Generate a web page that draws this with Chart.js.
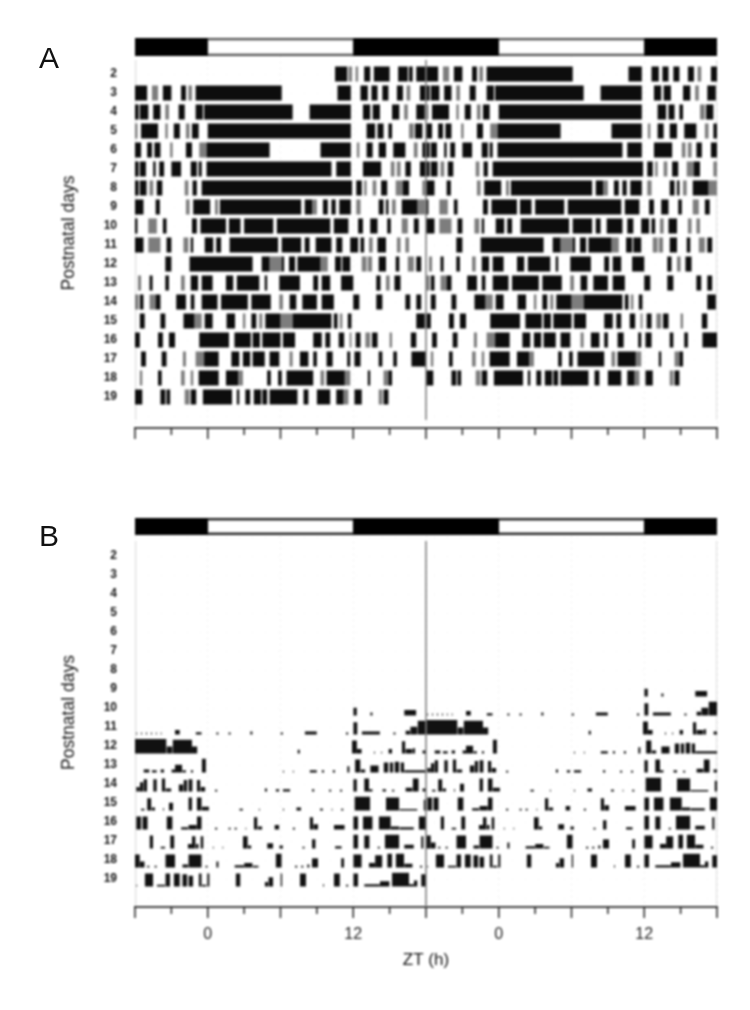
<!DOCTYPE html>
<html>
<head>
<meta charset="utf-8">
<title>Actograms</title>
<script src="https://cdn.jsdelivr.net/npm/chart.js@4"></script>
<style>
    html, body { margin: 0; padding: 0; background: #fff; }
    #page { position: relative; width: 750px; height: 1010px; overflow: hidden; }
    canvas { position: absolute; left: 0; filter: blur(0.8px); }
    #chart-a { top: 0; }
    #chart-b { top: 480px; }
    .panel-letter { position: absolute; left: 39px; font: 30px "Liberation Sans", Arial, sans-serif; color: #111; line-height: 30px; filter: blur(0.5px); }
</style>
</head>
<body>
<div id="page">
    <div class="panel-letter" style="top:43px">A</div>
    <div class="panel-letter" style="top:521px">B</div>
    <canvas id="chart-a" width="750" height="470"></canvas>
    <canvas id="chart-b" width="750" height="530"></canvas>
</div>
<script>
const days = [2, 3, 4, 5, 6, 7, 8, 9, 10, 11, 12, 13, 14, 15, 16, 17, 18, 19];

// ZT hours where the light phase is on (black bar everywhere else)
const lightPhases = [[0, 12], [24, 36]];

// Panel A: activity bouts per day, [start, end, level], hours from -6 to 18. No level = full.
const boutsA = [
    [[10.5,11.5],[11.6,11.9,.5],[12.2,12.4,.5],[12.9,13.4],[13.7,15],[15.7,16.5],[16.6,16.9],[17.2,18]],
    [[-6,-5],[-4.6,-4.1,.5],[-3.7,-3],[-2.2,-1.8],[-1.6,-1.3,.5],[-1,6.1],[10.7,11.8],[12.6,13.2],[13.5,14],[14.4,14.9],[15.6,16.1],[16.4,16.7,.5],[17.5,18]],
    [[-6,-5.7],[-5.6,-4.9],[-4.5,-3.9],[-3.5,-3.2,.5],[-2.4,-1.9],[-1,-.4],[-.3,7],[8.4,11.8],[12.8,13.4],[13.6,14.2],[15.2,15.8],[16.2,16.5,.5],[17.2,17.9]],
    [[-6,-5.8,.5],[-5.5,-4.1],[-3.5,-3.3,.5],[-2.8,-2.3],[-1.8,-1.5,.5],[-1.3,-.75],[0,11.8],[13.1,13.8],[14,14.5],[14.9,15.2],[16.6,17,.5],[17.1,17.7]],
    [[-6,-5.5],[-5,-4.6],[-4.4,-3.9],[-3.1,-2.9,.5],[-1.8,-1.3],[-.7,-.1,.6],[-.1,5.1],[9.3,11.8],[12.3,12.5,.5],[13.1,13.6],[14.1,14.7],[15.3,16.3],[17,17.3,.5],[17.7,18]],
    [[-6,-5.7],[-5.6,-5.1],[-4.5,-4.3],[-4,-3.6],[-3,-2.2],[-1.4,-.9],[-.75,-.5],[-.1,10.2],[10.6,11.8],[12.8,14.3],[15.1,15.4,.5],[15.6,15.9,.5],[16.3,16.75],[17.5,18]],
    [[-6,-5.7],[-5.6,-5.05],[-4.8,-4.5,.5],[-4.2,-3.75],[-1.9,-1.6,.5],[-1.25,-.9],[-.5,11.9],[12.25,12.7],[12.9,13.1,.5],[13.6,13.9,.5],[14.3,14.8],[15.5,16.1,.5],[16.1,16.6],[17.7,18,.5]],
    [[-6,-5.3],[-4.3,-3.95],[-1.8,-1.5,.5],[-1.2,.2],[.6,.85,.5],[1,7.7],[8,8.6],[8.6,9,.6],[9.5,9.9],[10.2,10.55],[10.85,11.8],[12.25,12.6,.5],[14.1,14.5],[14.7,14.9],[15.2,15.5,.5],[16,17.3],[17.3,18,.6]],
    [[-6,-5.8],[-4.9,-4.2,.7],[-3.7,-3.4],[-1.3,-.9],[-.6,1.5],[1.75,2.7],[3,5.4],[5.7,10.1],[10.4,11.6],[12.4,12.8],[13.4,14],[14.8,15.1],[16,16.5,.6],[17,17.4]],
    [[-6,-5.3],[-4.9,-3.9,.5],[-3.4,-3],[-2,-1.6,.5],[-1.4,-1.2],[-.25,.45],[.7,1.1],[1.8,5.8],[6.1,7.7],[8,8.4],[8.9,10.2],[10.6,11.1],[11.75,12.4],[12.6,12.9],[13.3,13.6,.5],[14,14.7],[15.6,15.9,.5],[16.3,16.6,.5]],
    [[-3.5,-3],[-1.5,3.7],[4.45,5.1],[5.1,6.1,.5],[6.1,6.3],[6.7,7.2],[7.4,9.3],[9.3,9.9,.6],[10.5,11],[11.1,11.75],[12.7,13.1,.5],[13.2,13.55,.5],[14.1,14.7],[15.5,15.8],[16.5,17,.6],[17.2,17.6]],
    [[-5.75,-5.5,.5],[-4.8,-4.55],[-3.5,-3.2],[-2.2,-1.9,.5],[-1.4,-.8],[-.5,.4],[1.5,2.1],[2.4,4.25],[4.7,4.9],[5.9,7.6],[8.7,9.1],[9.4,10.1],[11,12],[13.9,14.25],[14.7,15,.5],[15.4,15.9]],
    [[-6,-5.7,.5],[-5.6,-5.3],[-4.8,-4.3,.6],[-4.3,-3.9],[-2.6,-1.8],[-1.4,-1.1],[-.5,.8],[1.1,3.3],[3.6,5.2],[5.9,6.2,.5],[6.75,7.3],[7.8,9],[9.4,10.4],[12,12.5],[13.9,14.4],[16.3,16.7],[17.2,17.6]],
    [[-5.6,-5.2],[-3.9,-3.5],[-2,-1.1],[-1.1,-.5,.6],[-.25,.4],[1.55,2.25],[2.9,3.1,.5],[3.6,4],[4.25,4.5,.5],[4.75,6],[6,7,.6],[7,10.2],[10.4,10.7],[10.9,11.1,.5],[11.55,11.85],[17.2,17.9]],
    [[-6,-5.6],[-4.1,-3.7],[-3.2,-2.7],[-.7,1.75],[2.2,3.55],[3.7,4.3],[4.5,6],[6.2,7.2],[8.7,9.4],[9.7,10.1],[10.8,11.25],[11.7,11.85,.5],[12.2,12.6],[13,13.4,.6],[13.55,14],[15,15.2,.5],[16.75,17.2]],
    [[-5.5,-5.1],[-3.8,-3.4],[-2.05,-1.8,.5],[-1,-.3,.6],[-.3,.9],[1.95,2.6],[2.9,3.5],[3.7,4.7],[5.1,5.9],[6.75,7,.5],[7.6,8.3],[8.7,9],[9.8,10.3],[11.5,11.75],[12.1,12.6],[14.1,14.4],[15.3,15.6],[16.8,18]],
    [[-5.6,-5.4,.5],[-4.1,-3.8],[-2.2,-1.9,.5],[-1.4,-1.2,.5],[-.75,.9],[1.5,2.5],[2.5,2.9,.6],[4.9,5.2],[5.8,6.1],[6.5,8.7],[9.3,9.6,.5],[9.8,11.3],[11.3,11.75,.7],[13.2,13.4],[14.5,14.9,.5],[14.9,15.2]],
    [[-6,-5.4],[-3.9,-3.5],[-3.4,-3.1],[-1.9,-1.5,.7],[-1.4,-.95],[-.4,2],[2.4,2.6],[3.1,3.5],[3.8,4.4],[4.5,4.9],[5.1,7.4],[7.9,8.3],[9,10.1],[10.6,11.2],[11.2,11.6,.7],[12.1,12.7],[14.1,14.4,.5],[14.5,14.9]]
];

// Panel B: activity counts per day, [start, end, height of the row (0-1)], hours from -6 to 18
const bumpsB = [
    [], [], [], [], [], [], [],
    [],
    [[12,12.3,.5],[13.4,13.6,.2],[16.2,17.2,.35]],
    [[-5.9,-5.8,.12],[-5.5,-5.4,.12],[-5.1,-5,.12],[-4.7,-4.6,.12],[-4.3,-4.2,.12],[-3.9,-3.8,.12],[-2.7,-2.3,.3],[-1,-.5,.15],[.7,.9,.12],[1.7,1.9,.12],[3.5,3.7,.2],[6,6.2,.12],[8,9,.2],[11.4,11.6,.12],[12,12.35,.8],[12.7,14.2,.2],[15.3,15.5,.12],[16.3,16.7,.25],[16.7,17.3,.5],[17.3,18,.9]],
    [[-6,-3.4,.95],[-3.4,-2.9,.45],[-2.9,-1.3,.9],[-1.3,-.85,.45],[7.4,7.6,.25],[11.9,12.3,.85],[12.3,12.7,.3],[13.7,13.8,.12],[14.3,14.4,.12],[14.9,15.2,.3],[16,16.3,.8],[16.3,16.9,.3],[16.9,17.1,.35],[17.7,18,.2]],
    [[-5.3,-4.8,.2],[-4.6,-4.2,.15],[-3.9,-3.6,.2],[-3,-2.7,.2],[-2.7,-2.1,.5],[-2.1,-1.8,.15],[-1.4,-1.2,.15],[-.5,-.15,.9],[6.2,6.3,.12],[7,7.1,.12],[8.4,9,.15],[9.4,9.6,.15],[10.3,10.5,.15],[11.5,11.7,.4],[12.15,12.6,.85],[12.6,13,.2],[13.4,14.1,.45],[14.5,14.9,.65],[15,15.3,.65],[15.4,15.8,.7],[15.9,16.2,.65],[16.2,18,.15]],
    [[-5.9,-5.6,.3],[-5.6,-5.3,.6],[-5.3,-5,.8],[-4.5,-4.2,.8],[-3.8,-3.5,.85],[-3.5,-3,.2],[-2.4,-2,.45],[-2,-1.7,.75],[-1.6,-1.25,.8],[-.9,-.6,.75],[-.6,-.2,.3],[.6,.8,.12],[4.7,4.9,.2],[5.6,5.9,.15],[6.2,6.8,.15],[8.6,8.8,.15],[10,10.2,.12],[10.9,11.1,.12],[12,12.3,.8],[12.9,13.3,.85],[13.3,13.6,.15],[14.4,14.7,.15],[15.2,15.4,.12],[16.3,16.9,.25],[16.9,17.4,.85],[17.7,18,.2]],
    [[-5.5,-5.2,.12],[-5,-4.65,.8],[-4.65,-4.35,.2],[-3.7,-3.6,.15],[-3.2,-2.85,.5],[-1.6,-1.3,.85],[-.9,-.5,.85],[-.5,.1,.25],[2.6,2.9,.12],[4.2,4.3,.12],[6.2,6.3,.12],[7.3,7.7,.2],[9.25,9.5,.12],[10.2,10.3,.12],[11,11.2,.12],[12.1,13.4,.9],[14.7,15.8,.85],[15.8,17.3,.1],[17.8,18,.7]],
    [[-5.9,-5.5,.85],[-5.4,-4.95,.85],[-3.4,-2.9,.85],[-2.2,-1.6,.15],[-1.6,-.9,.3],[-.9,-.5,.85],[.6,.8,.12],[1.7,1.9,.12],[2.2,2.4,.12],[3.1,3.2,.12],[3.8,4.1,.8],[4.1,4.5,.2],[5.5,5.9,.3],[7,7.2,.12],[8.4,8.7,.8],[8.7,9.1,.35],[10.4,11.3,.3],[12,12.4,.85],[12.8,13.6,.85],[14.1,15.1,.85],[15.1,15.8,.2],[15.8,17,.15],[17.4,18,.85]],
    [[-4.8,-4.5,.85],[-3.9,-3.5,.12],[-3.1,-2.75,.85],[-1.65,-1.3,.3],[-1.3,-1,.8],[-1,-.75,.3],[-.6,-.35,.8],[.4,.5,.12],[1.2,1.3,.12],[2.9,3.3,.8],[3.3,3.6,.2],[4.9,5.4,.35],[5.9,6.2,.2],[7.8,8,.12],[8.6,8.9,.6],[10.5,11.05,.15],[12,12.4,.9],[12.9,13.35,.85],[14,14.2,.12],[14.6,15.8,.9],[16.2,17,.25],[17.6,17.8,.8]],
    [[-6,-5.6,.85],[-5.6,-5.2,.4],[-5,-4.8,.12],[-4.4,-4.2,.12],[-3.5,-2.7,.85],[-2.1,-1.6,.2],[-1.6,-.5,.85],[-.2,0,.12],[.7,.9,.4],[2.2,3,.15],[3,3.7,.3],[3.7,4.2,.12],[5.6,6.1,.9],[7.2,7.4,.12],[7.7,7.9,.12],[8.2,8.4,.2],[8.6,9.1,.6],[11,11.25,.6],[12,12.7,.85],[13.3,13.8,.3],[13.8,14.4,.8],[14.8,15.2,.9],[15.5,16.2,.9],[16.2,16.9,.25],[17.5,17.7,.12]],
    [[-5.9,-5.8,.12],[-5.2,-4.5,.85],[-4.2,-3.5,.12],[-3.5,-3.1,.85],[-2.8,-2.3,.85],[-2.1,-1.7,.8],[-1.6,-1.2,.7],[-.75,-.5,.85],[-.5,-.1,.12],[-.05,.15,.85],[2.3,2.7,.85],[4.7,5,.3],[5,5.4,.6],[6,6.15,.85],[7.6,8.1,.85],[9.5,9.6,.15],[10.4,10.9,.85],[11.4,11.6,.12],[12,12.4,.85],[12.9,14.2,.15],[14.2,15,.35],[15.2,16.6,.9],[16.6,17,.15],[17,17.3,.4],[17.6,18,.8]]
];

const hourTicks = 3;
const barTrack = { A: { bar: 0.58, top: 1.26 }, B: { bar: 0.45, top: 1.21 } };

function rowSegments(row, level) {
    // a line with gaps: each bout is one stroke across the row
    const pts = [];
    const add = (list, shift, y) => {
        list.forEach(b => {
            const partial = b.length > 2;
            if (partial !== level) return;
            pts.push({ x: b[0] + shift, y: y }, { x: b[1] + shift, y: y }, { x: NaN, y: NaN });
        });
    };
    add(boutsA[row], 0, days[row]);
    if (row + 1 < days.length) add(boutsA[row + 1], 24, days[row]);
    return pts;
}

function rowBumps(row) {
    const pts = [];
    const base = days[row] + 0.39;
    const add = (list, shift) => {
        list.forEach(b => {
            const top = base - b[2] * 0.8;
            pts.push({ x: b[0] + shift, y: base }, { x: b[0] + shift, y: top }, { x: b[1] + shift, y: top }, { x: b[1] + shift, y: base }, { x: NaN, y: NaN });
        });
    };
    add(bumpsB[row], 0);
    if (row + 1 < days.length) add(bumpsB[row + 1], 24);
    return pts;
}

function line(data, color, width) {
    return { data: data, borderColor: color, borderWidth: width, pointRadius: 0, borderCapStyle: "butt", tension: 0, fill: false, spanGaps: false };
}

function lightDarkDatasets(y, width, edge) {
    const gaps = [];
    const white = [];
    lightPhases.forEach(p => {
        gaps.push({ x: p[0], y: y }, { x: p[1], y: y }, { x: NaN, y: NaN });
        white.push({ x: p[0] + 0.03, y: y }, { x: p[1] - 0.03, y: y }, { x: NaN, y: NaN });
    });
    return [
        line(white, "#fff", width - 5),
        line(gaps, edge, width - 1),
        line([{ x: -6, y: y }, { x: 42, y: y }], "#000", width)
    ];
}

// tick marks: long every 6 h, short in between
const tickMarks = {
    id: "tickMarks",
    afterDraw(chart) {
        const { ctx, chartArea, scales } = chart;
        ctx.save();
        ctx.strokeStyle = "#222";
        ctx.lineWidth = 1.5;
        scales.x.ticks.forEach(t => {
            const px = scales.x.getPixelForValue(t.value);
            ctx.beginPath();
            ctx.moveTo(px, chartArea.bottom);
            ctx.lineTo(px, chartArea.bottom + (t.value % 6 === 0 ? 11 : 7));
            ctx.stroke();
        });
        ctx.restore();
    }
};

function makePanel(id, marks, opts) {
    const guides = [
        line([{ x: 18, y: opts.top }, { x: 18, y: opts.guideEnd }], "rgba(130,130,130,0.85)", 1),
    ];
    const sides = [
        line([{ x: -6, y: opts.top }, { x: -6, y: opts.sideEnd }], "#ddd", 2.5),
        line([{ x: 42, y: opts.top }, { x: 42, y: opts.sideEnd }], "#ddd", 2)
    ];
    new Chart(document.getElementById(id), {
        type: "line",
        data: { datasets: guides.concat(marks, lightDarkDatasets(opts.bar, opts.barWidth, opts.edge), sides) },
        plugins: [tickMarks],
        options: {
            responsive: false,
            animation: false,
            layout: { padding: { top: 38, right: 33, bottom: opts.padBottom, left: 0 } },
            plugins: { legend: { display: false }, tooltip: { enabled: false } },
            scales: {
                x: {
                    type: "linear",
                    min: -6,
                    max: 42,
                    afterFit: s => { s.height = opts.axisHeight; },
                    border: { color: "#444", width: 2, dash: [1, 5] },
                    grid: {
                        drawTicks: false,
                        color: c => (c.tick && c.tick.value % 6 === 0 ? "#e4e4e4" : "rgba(0,0,0,0)")
                    },
                    ticks: {
                        stepSize: hourTicks,
                        autoSkip: false,
                        maxRotation: 0,
                        padding: 18,
                        color: "#222",
                        font: { family: "Liberation Sans", size: 16 },
                        callback: v => {
                            if (!opts.labels || v % 12 !== 0) return "";
                            return String(((v % 24) + 24) % 24);
                        }
                    },
                    title: {
                        display: !!opts.xTitle,
                        text: opts.xTitle || "",
                        color: "#111",
                        padding: 0,
                        font: { family: "Liberation Sans", size: 17 }
                    }
                },
                y: {
                    type: "linear",
                    reverse: true,
                    min: opts.yMin,
                    max: opts.yMax,
                    afterFit: s => { s.width = 135; },
                    border: { display: false, dash: [1, 12] },
                    grid: { drawTicks: false, color: "#efefef" },
                    ticks: {
                        stepSize: 1,
                        includeBounds: false,
                        padding: 18,
                        color: "#111",
                        font: { family: "Liberation Sans", size: 12, weight: "bold" },
                        callback: v => (days.includes(v) ? String(v) : "")
                    },
                    title: {
                        display: true,
                        text: "Postnatal days",
                        color: "#111",
                        padding: { top: 59, bottom: 0 },
                        font: { family: "Liberation Sans", size: 17.5 }
                    }
                }
            }
        }
    });
}

// panel A: solid strokes, darker ones first so they sit on top
const marksA = [];
days.forEach((d, i) => {
    marksA.push(line(rowSegments(i, false), "#0d0d0d", 15));
    marksA.push(line(rowSegments(i, true), "#7d7d7d", 15));
});

// panel B: filled little histograms sitting on each row's baseline
const marksB = days.map((d, i) => ({
    data: rowBumps(i),
    borderWidth: 0,
    borderColor: "#111",
    backgroundColor: "#111",
    pointRadius: 0,
    tension: 0,
    spanGaps: false,
    fill: { value: d + 0.39 }
}));

makePanel("chart-a", marksA, {
    yMin: 0.105, yMax: 20.63, bar: barTrack.A.bar, barWidth: 18, edge: "#777", top: barTrack.A.top,
    guideEnd: 20.2, sideEnd: 20.2, axisHeight: 42, padBottom: 0, labels: false
});
makePanel("chart-b", marksB, {
    yMin: 0, yMax: 20.47, bar: barTrack.B.bar, barWidth: 17, edge: "#333", top: barTrack.B.top,
    guideEnd: 20.47, sideEnd: 20.4, axisHeight: 64, padBottom: 39, labels: true, xTitle: "ZT (h)"
});
</script>
</body>
</html>
